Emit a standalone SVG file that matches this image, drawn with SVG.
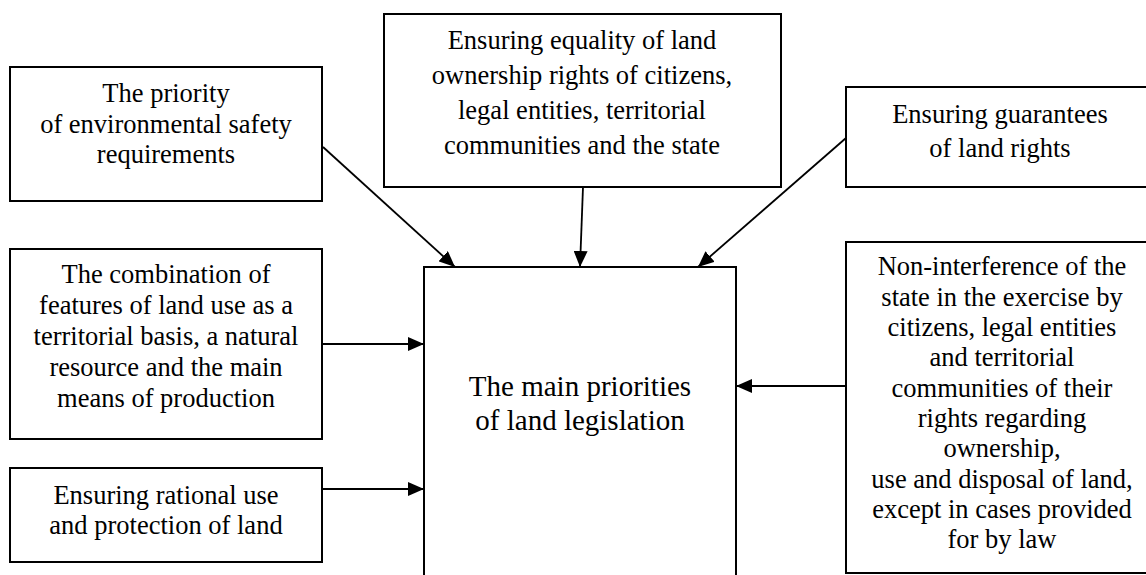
<svg xmlns="http://www.w3.org/2000/svg" width="1146" height="575" viewBox="0 0 1146 575">
<style>
.box{fill:#fff;stroke:#000;stroke-width:2}
.t{font-family:"Liberation Serif","Times New Roman",serif;font-size:26.5px;fill:#000;text-anchor:middle}
.tm{font-family:"Liberation Serif","Times New Roman",serif;font-size:29px;fill:#000;text-anchor:middle}
.c{stroke:#000;stroke-width:1.8;fill:none;marker-end:url(#ah)}
</style>
<defs>
<marker id="ah" markerUnits="userSpaceOnUse" markerWidth="16" markerHeight="14" refX="16" refY="7" orient="auto">
<path d="M0,0 L16,7 L0,14 z" fill="#000"/>
</marker>
</defs>
<rect width="1146" height="575" fill="#fff"/>
<g id="main">
<rect class="box" x="424" y="267" width="312" height="340"/>
<text class="tm" x="580" y="396">The main priorities</text>
<text class="tm" x="580" y="430">of land legislation</text>
</g>
<g id="n1">
<rect class="box" x="10" y="67" width="312" height="134"/>
<text class="t" x="166" y="102">The priority</text>
<text class="t" x="166" y="133">of environmental safety</text>
<text class="t" x="166" y="163">requirements</text>
</g>
<g id="n2">
<rect class="box" x="384" y="14" width="397" height="173"/>
<text class="t" x="582" y="49">Ensuring equality of land</text>
<text class="t" x="582" y="84">ownership rights of citizens,</text>
<text class="t" x="582" y="119">legal entities, territorial</text>
<text class="t" x="582" y="154">communities and the state</text>
</g>
<g id="n3">
<rect class="box" x="846" y="87" width="310" height="100"/>
<text class="t" x="1000" y="123">Ensuring guarantees</text>
<text class="t" x="1000" y="157">of land rights</text>
</g>
<g id="n4">
<rect class="box" x="10" y="249" width="312" height="190"/>
<text class="t" x="166" y="283">The combination of</text>
<text class="t" x="166" y="314">features of land use as a</text>
<text class="t" x="166" y="345">territorial basis, a natural</text>
<text class="t" x="166" y="376">resource and the main</text>
<text class="t" x="166" y="407">means of production</text>
</g>
<g id="n5">
<rect class="box" x="10" y="468" width="312" height="94"/>
<text class="t" x="166" y="504">Ensuring rational use</text>
<text class="t" x="166" y="534">and protection of land</text>
</g>
<g id="n6">
<rect class="box" x="846" y="242" width="312" height="331"/>
<text class="t" x="1002" y="275">Non-interference of the</text>
<text class="t" x="1002" y="306">state in the exercise by</text>
<text class="t" x="1002" y="336">citizens, legal entities</text>
<text class="t" x="1002" y="366">and territorial</text>
<text class="t" x="1002" y="397">communities of their</text>
<text class="t" x="1002" y="427">rights regarding</text>
<text class="t" x="1002" y="457">ownership,</text>
<text class="t" x="1002" y="488">use and disposal of land,</text>
<text class="t" x="1002" y="518">except in cases provided</text>
<text class="t" x="1002" y="548">for by law</text>
</g>
<g id="connectors">
<line class="c" x1="323" y1="147" x2="455" y2="267"/>
<line class="c" x1="583" y1="187" x2="580" y2="267"/>
<line class="c" x1="846" y1="138" x2="698" y2="267"/>
<line class="c" x1="322" y1="344" x2="424" y2="344"/>
<line class="c" x1="322" y1="489" x2="424" y2="489"/>
<line class="c" x1="846" y1="386" x2="736" y2="386"/>
</g>
</svg>
